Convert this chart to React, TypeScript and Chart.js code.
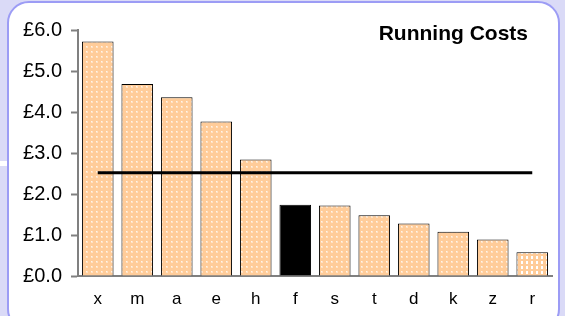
import React, { useEffect, useRef } from "react";
import { Chart, registerables } from "chart.js";

Chart.register(...registerables);

const categories = ["x", "m", "a", "e", "h", "f", "s", "t", "d", "k", "z", "r"];
const runningCosts = [5.72, 4.68, 4.36, 3.77, 2.84, 1.74, 1.72, 1.48, 1.28, 1.08, 0.89, 0.58];
const averageCost = [2.52, 2.52, 2.52, 2.52, 2.52, 2.52, 2.52, 2.52, 2.52, 2.52, 2.52, 2.52];
const highlighted = ["f"];
const coarse = ["r"];
const yTicks = [0, 1, 2, 3, 4, 5, 6];
const titleText = "Running Costs";

function makePattern(coarseDots: boolean): CanvasPattern | string {
  const c = document.createElement("canvas");
  c.width = 5;
  c.height = 5;
  const ctx = c.getContext("2d");
  if (!ctx) return "#ffcc99";
  ctx.fillStyle = "#ffcc99";
  ctx.fillRect(0, 0, 5, 5);
  if (coarseDots) {
    ctx.fillStyle = "#ffffff";
    ctx.fillRect(1, 1, 2, 3);
  } else {
    ctx.fillStyle = "#ffe2c4";
    ctx.fillRect(1, 1, 2, 2);
    ctx.fillStyle = "#fff4ea";
    ctx.fillRect(1, 1, 1, 1);
  }
  const p = ctx.createPattern(c, "repeat");
  return p || "#ffcc99";
}

const titlePlugin = {
  id: "insideTitle",
  afterDraw(chart: any) {
    const { ctx, chartArea } = chart;
    ctx.save();
    ctx.font = "bold 21px 'Liberation Sans'";
    ctx.fillStyle = "#000";
    ctx.textAlign = "right";
    ctx.textBaseline = "middle";
    ctx.fillText(titleText, chartArea.right - 24, chartArea.top + 4);
    ctx.restore();
  },
};

export default function App() {
  const ref = useRef<HTMLCanvasElement>(null);
  useEffect(() => {
    if (!ref.current) return;
    const normal = makePattern(false);
    const rough = makePattern(true);
    const barColors = categories.map((c) =>
      highlighted.includes(c) ? "#000000" : coarse.includes(c) ? rough : normal
    );
    const chart = new Chart(ref.current, {
      type: "bar",
      data: {
        labels: categories,
        datasets: [
          {
            type: "line",
            data: averageCost,
            borderColor: "#000",
            borderWidth: 3,
            pointRadius: 0,
            fill: false,
            order: 0,
          } as any,
          {
            type: "bar",
            data: runningCosts,
            backgroundColor: barColors as any,
            borderColor: "#000",
            borderWidth: 1,
            barPercentage: 0.8,
            categoryPercentage: 1,
            order: 1,
          },
        ],
      },
      options: {
        animation: false,
        responsive: true,
        maintainAspectRatio: false,
        layout: { padding: { left: 0, right: 13, top: 30, bottom: 0 } },
        plugins: { legend: { display: false }, tooltip: { enabled: false }, title: { display: false } },
        scales: {
          x: {
            grid: { display: false, drawTicks: false },
            border: { color: "#808080", width: 2 },
            ticks: { color: "#000", font: { family: "Liberation Sans", size: 17 }, padding: 13 },
            afterFit: (s: any) => {
              s.height = 40;
            },
          },
          y: {
            min: 0,
            max: 6,
            afterBuildTicks: (s: any) => {
              s.ticks = yTicks.map((v) => ({ value: v }));
            },
            grid: { drawOnChartArea: false, drawTicks: true, tickLength: 7, tickColor: "#808080", tickWidth: 2 },
            border: { color: "#808080", width: 2 },
            ticks: {
              color: "#000",
              padding: 9,
              font: { family: "Liberation Sans", size: 20 },
              callback: (v: any) => "£" + Number(v).toFixed(1),
            },
            afterFit: (s: any) => {
              s.width = 78;
            },
          },
        },
      },
      plugins: [titlePlugin],
    });
    return () => chart.destroy();
  }, []);

  return (
    <div style={{ position: "fixed", left: 0, top: 0, width: 565, height: 316, background: "#dadaf7", overflow: "hidden" }}>
      <div
        style={{
          position: "absolute",
          left: 7,
          top: 1,
          width: 553,
          height: 330,
          border: "2px solid #9c9cf5",
          borderRadius: 22,
          background: "#fff",
          boxSizing: "border-box",
        }}
      />
      <div style={{ position: "absolute", left: 0, top: 161, width: 7, height: 5, background: "#fff" }} />
      <div style={{ position: "absolute", left: 0, top: 0, width: 565, height: 316 }}>
        <canvas ref={ref} />
      </div>
    </div>
  );
}
